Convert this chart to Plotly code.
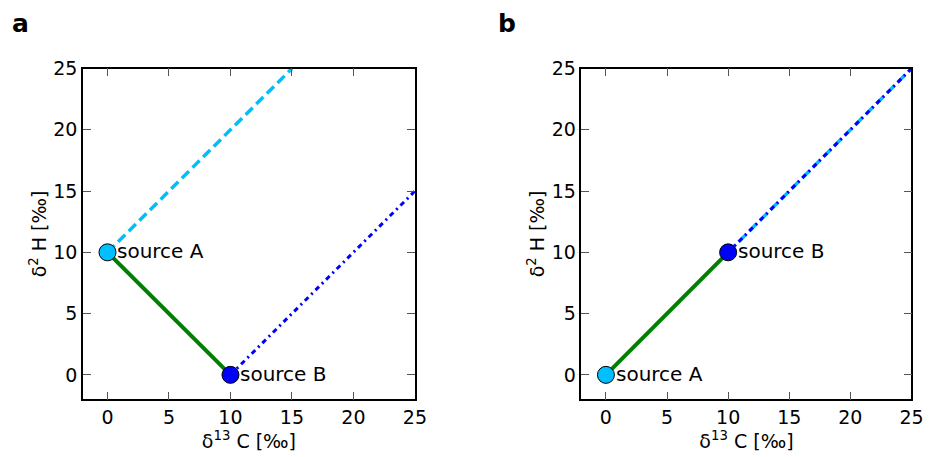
import plotly.graph_objects as go

# Panel a
a_src_x = [0, 10]
a_src_y = [10, 0]
a_mix_x = [0, 10]
a_mix_y = [10, 0]
a_cyan_x = [0, 15]
a_cyan_y = [10, 25]
a_blue_x = [10, 25]
a_blue_y = [0, 15]

# Panel b
b_src_x = [0, 10]
b_src_y = [0, 10]
b_mix_x = [0, 10]
b_mix_y = [0, 10]
b_cyan_x = [10, 25]
b_cyan_y = [10, 25]
b_blue_x = [10, 25]
b_blue_y = [10, 25]

src_labels = ["source A", "source B"]
src_colors = ["#00BFFF", "#0000FF"]
ticks = [0, 5, 10, 15, 20, 25]

GREEN = "#008000"
CYAN = "#00BFFF"
BLUE = "#0000FF"
FONT = "DejaVu Sans"

fig = go.Figure()
annotations = []

def add_panel(xa, ya, mix_x, mix_y, cyan_x, cyan_y, blue_x, blue_y, sx, sy):
    fig.add_trace(go.Scatter(x=cyan_x, y=cyan_y, mode="lines", xaxis=xa, yaxis=ya,
                             line=dict(color=CYAN, width=3.5, dash="10px,5px"), showlegend=False))
    fig.add_trace(go.Scatter(x=blue_x, y=blue_y, mode="lines", xaxis=xa, yaxis=ya,
                             line=dict(color=BLUE, width=3, dash="5px,4px,2px,4px"), showlegend=False))
    fig.add_trace(go.Scatter(x=mix_x, y=mix_y, mode="lines", xaxis=xa, yaxis=ya,
                             line=dict(color=GREEN, width=4), showlegend=False))
    fig.add_trace(go.Scatter(x=sx, y=sy, mode="markers", xaxis=xa, yaxis=ya,
                             marker=dict(size=17, color=src_colors, line=dict(color="black", width=1)),
                             showlegend=False))
    for px, py, lab in zip(sx, sy, src_labels):
        annotations.append(dict(x=px, y=py, xref=xa, yref=ya, text=lab, showarrow=False,
                                xanchor="left", yanchor="middle", xshift=8, yshift=1,
                                font=dict(size=20, color="black", family=FONT)))

add_panel("x", "y", a_mix_x, a_mix_y, a_cyan_x, a_cyan_y, a_blue_x, a_blue_y, a_src_x, a_src_y)
add_panel("x2", "y2", b_mix_x, b_mix_y, b_cyan_x, b_cyan_y, b_blue_x, b_blue_y, b_src_x, b_src_y)

axis_common = dict(range=[-2, 25], tickvals=ticks, ticks="inside", ticklen=8, tickwidth=1.2,
                   tickcolor="#555555", showline=True, linecolor="black", linewidth=1.5,
                   mirror="ticks", showgrid=False, zeroline=False,
                   tickfont=dict(size=19, color="black", family=FONT))

xtitle = dict(text="δ<sup>13</sup> C [‰]", font=dict(size=19, color="black", family=FONT), standoff=8)
ytitle = dict(text="δ<sup>2</sup> H [‰]", font=dict(size=19, color="black", family=FONT), standoff=2)

annotations += [
    dict(text="<b>a</b>", x=10 / 930, y=1 - 13 / 457, xref="paper", yref="paper",
         xanchor="left", yanchor="middle", showarrow=False,
         font=dict(size=25, color="black", family=FONT)),
    dict(text="<b>b</b>", x=502 / 930, y=1 - 13 / 457, xref="paper", yref="paper",
         xanchor="left", yanchor="middle", showarrow=False,
         font=dict(size=25, color="black", family=FONT)),
]

fig.update_layout(
    width=930, height=457,
    margin=dict(l=0, r=0, t=0, b=0),
    paper_bgcolor="white", plot_bgcolor="white",
    xaxis=dict(domain=[0.0903, 0.452], anchor="y", title=xtitle, **axis_common),
    yaxis=dict(domain=[0.1292, 0.871], anchor="x", title=ytitle, **axis_common),
    xaxis2=dict(domain=[0.6334, 0.9929], anchor="y2", title=xtitle, **axis_common),
    yaxis2=dict(domain=[0.1292, 0.871], anchor="x2", title=ytitle, **axis_common),
    annotations=annotations,
)

fig.write_html("out.html")
